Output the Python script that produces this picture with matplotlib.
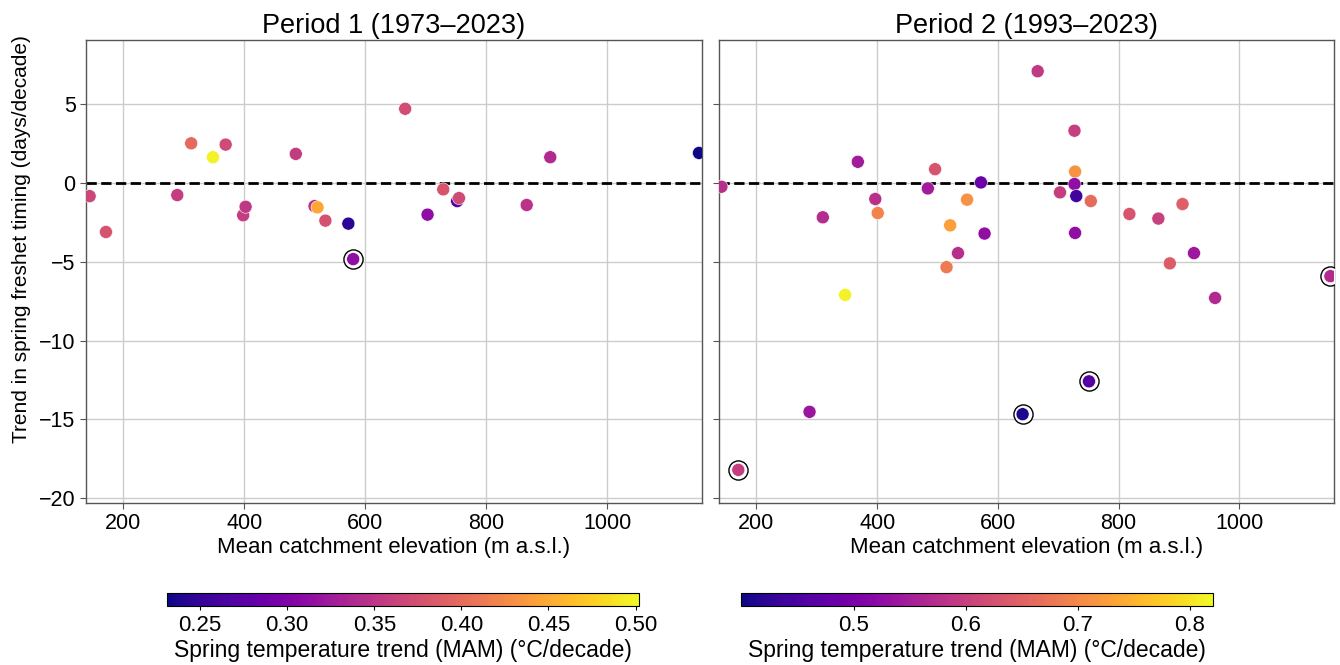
import matplotlib
matplotlib.use('Agg')
import matplotlib.pyplot as plt
from matplotlib.colors import Normalize
from matplotlib.cm import ScalarMappable

plt.rcParams['font.family'] = ['Liberation Sans', 'DejaVu Sans']

# ---------------- Data ----------------
# Period 1 (1973-2023)
elev_p1 = [144, 171, 289, 312, 348, 369, 398, 402, 485, 516, 521, 534, 572, 580,
           666, 729, 752, 755, 703, 867, 906, 1152]
trend_p1 = [-0.85, -3.12, -0.78, 2.50, 1.62, 2.42, -2.06, -1.52, 1.83, -1.48, -1.56, -2.40,
            -2.59, -4.84, 4.69, -0.42, -1.16, -0.97, -2.02, -1.41, 1.62, 1.89]
temp_p1 = [0.366, 0.378, 0.358, 0.398, 0.497, 0.370, 0.358, 0.352, 0.356, 0.348, 0.448, 0.376,
           0.245, 0.312, 0.372, 0.380, 0.272, 0.370, 0.312, 0.348, 0.340, 0.231]
sig_p1 = [False] * 13 + [True] + [False] * 8

# Period 2 (1993-2023)
elev_p2 = [142, 170, 288, 310, 368, 347, 397, 401, 484, 496, 515, 521, 534, 549, 572, 578,
           641, 666, 727, 728, 727, 703, 730, 754, 728, 751, 818, 866, 906, 885, 925, 960, 1151]
trend_p2 = [-0.25, -18.20, -14.52, -2.19, 1.33, -7.11, -1.03, -1.92, -0.36, 0.86, -5.35, -2.70,
            -4.46, -1.07, 0.02, -3.22, -14.67, 7.07, 3.30, 0.71, -0.08, -0.61, -0.84, -1.16,
            -3.18, -12.59, -1.98, -2.27, -1.35, -5.11, -4.46, -7.30, -5.92]
temp_p2 = [0.576, 0.597, 0.538, 0.572, 0.546, 0.813, 0.578, 0.694, 0.547, 0.631, 0.682, 0.728,
           0.576, 0.711, 0.483, 0.526, 0.412, 0.589, 0.600, 0.715, 0.526, 0.597, 0.441, 0.662,
           0.526, 0.462, 0.630, 0.602, 0.645, 0.640, 0.540, 0.566, 0.568]
sig_p2 = [False, True, False, False, False, False, False, False, False, False, False, False,
          False, False, False, False, True, False, False, False, False, False, False, False,
          False, True, False, False, False, False, False, False, True]

titles = ["Period 1 (1973\u20132023)", "Period 2 (1993\u20132023)"]
cbar_ticks_p1 = [0.25, 0.30, 0.35, 0.40, 0.45, 0.50]
cbar_ticks_p2 = [0.5, 0.6, 0.7, 0.8]
cbar_range_p1 = (0.231, 0.502)
cbar_range_p2 = (0.399, 0.821)
x_ticks = [200, 400, 600, 800, 1000]
y_ticks = [-20, -15, -10, -5, 0, 5]

# ---------------- Figure ----------------
W, H = 1340, 665
fig = plt.figure(figsize=(W / 100, H / 100), dpi=100)


def px_axes(x0, y0, x1, y1):
    return fig.add_axes([x0 / W, 1 - y1 / H, (x1 - x0) / W, (y1 - y0) / H])


ax1 = px_axes(86, 40, 702, 503)
ax2 = px_axes(719, 40, 1334, 503)
cax1 = px_axes(167, 593, 639, 606)
cax2 = px_axes(741, 593, 1213, 606)

panels = [
    (ax1, elev_p1, trend_p1, temp_p1, sig_p1, cbar_range_p1, cax1, cbar_ticks_p1, "%.2f"),
    (ax2, elev_p2, trend_p2, temp_p2, sig_p2, cbar_range_p2, cax2, cbar_ticks_p2, "%.1f"),
]

for i, (ax, ex, ty, tc, sg, rng, cax, cticks, fmt) in enumerate(panels):
    norm = Normalize(vmin=rng[0], vmax=rng[1])
    ax.set_axisbelow(True)
    ax.grid(True, color='#cccccc', linewidth=1.0)
    ax.axhline(0, color='black', linestyle='--', linewidth=2, zorder=2)
    # rings for significant trends
    sx = [e for e, s in zip(ex, sg) if s]
    sy = [t for t, s in zip(ty, sg) if s]
    ax.scatter(sx, sy, s=190, facecolors='white', edgecolors='black', linewidths=1.0, zorder=3)
    ax.scatter(ex, ty, c=tc, cmap='plasma', norm=norm, s=88, edgecolors='white',
               linewidths=0.4, zorder=4)
    ax.set_xlim(138, 1157)
    ax.set_ylim(-20.3, 9.05)
    ax.set_xticks(x_ticks)
    ax.set_yticks(y_ticks)
    ax.tick_params(labelsize=15.5, length=4, color='#555555')
    for sp in ax.spines.values():
        sp.set_color('#555555')
        sp.set_linewidth(1.0)
    ax.set_title(titles[i], fontsize=19.5, pad=5)
    ax.set_xlabel("Mean catchment elevation (m a.s.l.)", fontsize=16, labelpad=2)
    if i == 1:
        ax.tick_params(labelleft=False)

    sm = ScalarMappable(norm=norm, cmap='plasma')
    cb = fig.colorbar(sm, cax=cax, orientation='horizontal')
    cb.set_ticks(cticks)
    cb.ax.xaxis.set_major_formatter(matplotlib.ticker.FormatStrFormatter(fmt))
    cb.ax.tick_params(labelsize=16, length=3)
    cb.outline.set_linewidth(0.8)
    cb.set_label("Spring temperature trend (MAM) (\u00b0C/decade)", fontsize=16.5, labelpad=2)

fig.text(22 / W, 1 - 239 / H, "Trend in spring freshet timing (days/decade)",
         rotation=90, ha='center', va='center', fontsize=15)

fig.savefig('out.png', dpi=100)
